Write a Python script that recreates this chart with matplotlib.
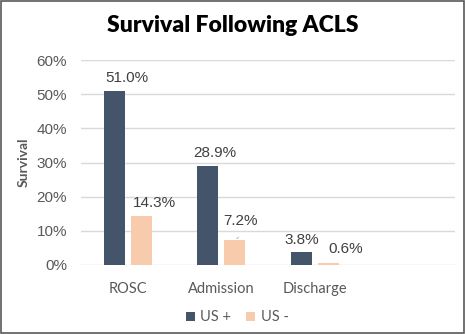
import matplotlib.pyplot as plt
import numpy as np
from matplotlib.patches import Rectangle

categories = ['ROSC', 'Admission', 'Discharge']
us_pos = [51.0, 28.9, 3.8]
us_neg = [14.3, 7.2, 0.6]
series_names = ['US +', 'US -']
yticks = [0, 10, 20, 30, 40, 50, 60]

dark = '#44546a'
light = '#f8cbad'
grey = '#595959'

fig = plt.figure(figsize=(4.65, 3.34), dpi=100)
ax = fig.add_axes([0.174, 0.2066, 0.804, 0.6134])

x = np.arange(len(categories))
w = 0.225
off = 0.145
b1 = ax.bar(x - off, us_pos, w, color=dark, label=series_names[0], zorder=3)
b2 = ax.bar(x + off, us_neg, w, color=light, label=series_names[1], zorder=3)

ax.set_xlim(-0.5, 3.5)
ax.set_ylim(0, 60)
ax.set_yticks(yticks)
ax.set_yticklabels([f'{t}%' for t in yticks], family='Liberation Sans', fontsize=11, color=grey)
ax.set_xticks(x)
ax.set_xticklabels(categories, family='Lato', fontsize=10.5, color=grey)
ax.tick_params(length=0)
ax.tick_params(axis='x', pad=12)
ax.tick_params(axis='y', pad=10)
for s in ax.spines.values():
    s.set_visible(False)
ax.grid(axis='y', color='#d9d9d9', linewidth=1, zorder=0)
ax.set_axisbelow(True)

# label offsets in pixels (dx, dy) relative to bar top center
pos_off = [(13, 13), (7, 13), (1, 12)]
neg_off = [(13, 13), (6, 19), (18, 14)]
for i in range(len(categories)):
    ax.annotate(f'{us_pos[i]:.1f}%', (x[i] - off, us_pos[i]), xytext=pos_off[i],
                textcoords='offset pixels', ha='center', va='center',
                family='Liberation Sans', fontsize=11, color='#404040')
    ax.annotate(f'{us_neg[i]:.1f}%', (x[i] + off, us_neg[i]), xytext=neg_off[i],
                textcoords='offset pixels', ha='center', va='center',
                family='Liberation Sans', fontsize=11, color='#404040')

# small leader line for the 7.2% label
ax.annotate('', (x[1] + off, us_neg[1]), xytext=(6, 5), textcoords='offset pixels',
            arrowprops=dict(arrowstyle='-', color='#a6a6a6', lw=0.6))

ax.set_ylabel('Survival', family='Lato', fontweight='bold', fontsize=10, color=grey, labelpad=5)

fig.text(0.5, 0.925, 'Survival Following ACLS', ha='center', va='center',
         family='Lato', fontweight='heavy', fontsize=16.5, color='black')

leg = fig.legend(handles=[b1, b2], loc='center', bbox_to_anchor=(0.51, 0.05), ncol=2,
                 frameon=False, prop={'family': 'Lato', 'size': 10.5},
                 handlelength=0.6, handleheight=0.6, handletextpad=0.4, columnspacing=1.0)
for t in leg.get_texts():
    t.set_color(grey)

fig.patches.append(Rectangle((0.002, 0.003), 0.996, 0.994, transform=fig.transFigure,
                             fill=False, edgecolor='#595959', linewidth=1.2))

fig.savefig('out.png', dpi=100)
